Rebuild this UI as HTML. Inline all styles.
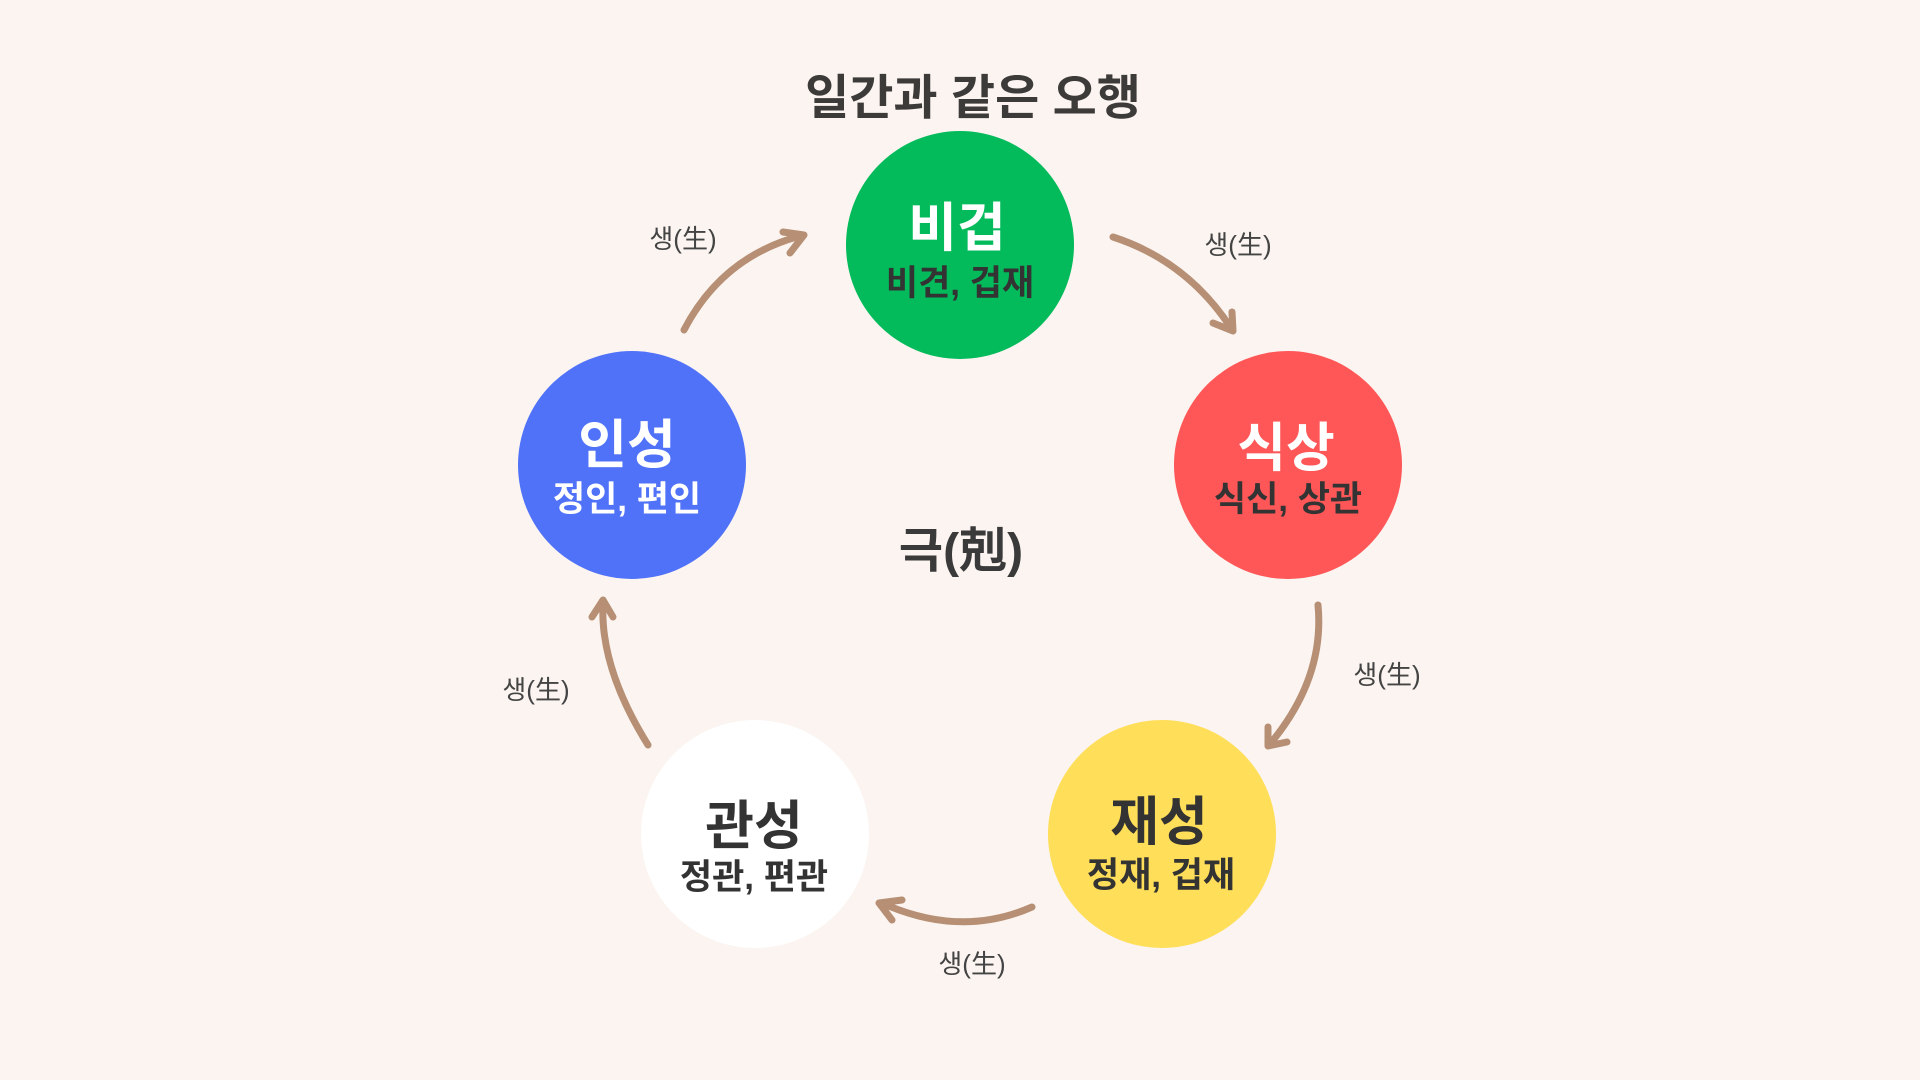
<!DOCTYPE html>
<html>
<head>
<meta charset="utf-8">
<style>
  html, body { margin: 0; padding: 0; }
  body { width: 1920px; height: 1080px; background: #fbf4f0; overflow: hidden; }
  svg { display: block; }
  text { font-family: "Liberation Sans", "Noto Sans CJK KR", "NanumGothic", sans-serif; }
  .t { font-weight: 700; }
  .lbl { font-size: 26px; fill: #444; font-weight: 400; }
</style>
</head>
<body>
<svg width="1920" height="1080" viewBox="0 0 1920 1080" xmlns="http://www.w3.org/2000/svg">
  <rect width="1920" height="1080" fill="#fbf4f0"/>

  <!-- Title -->
  <text x="973" y="114" text-anchor="middle" class="t" font-size="48" fill="#3d3b3a">일간과 같은 오행</text>

  <!-- Circles -->
  <circle cx="960" cy="245" r="114" fill="#03bb5b"/>
  <circle cx="1288" cy="465" r="114" fill="#ff5757"/>
  <circle cx="1162" cy="834" r="114" fill="#ffde59"/>
  <circle cx="755" cy="834" r="114" fill="#ffffff"/>
  <circle cx="632" cy="465" r="114" fill="#5072f8"/>

  <!-- Node labels -->
  <text x="957" y="246" text-anchor="middle" class="t" font-size="53" fill="#ffffff">비겁</text>
  <text x="960" y="295" text-anchor="middle" class="t" font-size="35" fill="#333333">비견, 겁재</text>

  <text x="1286" y="466" text-anchor="middle" class="t" font-size="53" fill="#ffffff">식상</text>
  <text x="1288" y="511" text-anchor="middle" class="t" font-size="35" fill="#333333">식신, 상관</text>

  <text x="1159" y="840" text-anchor="middle" class="t" font-size="53" fill="#333333">재성</text>
  <text x="1161" y="887" text-anchor="middle" class="t" font-size="35" fill="#333333">정재, 겁재</text>

  <text x="754" y="844" text-anchor="middle" class="t" font-size="53" fill="#333333">관성</text>
  <text x="754" y="889" text-anchor="middle" class="t" font-size="35" fill="#333333">정관, 편관</text>

  <text x="627" y="463" text-anchor="middle" class="t" font-size="53" fill="#ffffff">인성</text>
  <text x="627" y="511" text-anchor="middle" class="t" font-size="35" fill="#ffffff">정인, 편인</text>

  <!-- Center -->
  <text x="961" y="567" text-anchor="middle" class="t" font-size="48" fill="#3a3a3a">극(剋)</text>

  <!-- Arrows -->
  <g fill="none" stroke="#b68f74" stroke-width="7" stroke-linecap="round" stroke-linejoin="round">
    <!-- 인성 -> 비겁 -->
    <path d="M684 330 Q722 257 800 236"/>
    <path d="M783 232 L804 235 L790 253"/>
    <!-- 비겁 -> 식상 -->
    <path d="M1113 237 Q1187 261 1231 328"/>
    <path d="M1213 323 L1233 331 L1232 312"/>
    <!-- 식상 -> 재성 -->
    <path d="M1318 605 Q1325 678 1270 744"/>
    <path d="M1268 727 L1268 746 L1287 742"/>
    <!-- 재성 -> 관성 -->
    <path d="M1032 907 Q962 938 884 904"/>
    <path d="M902 900 L879 903 L892 920"/>
    <!-- 관성 -> 인성 -->
    <path d="M648 745 Q600 668 603 604"/>
    <path d="M592 617 L603 600 L613 617"/>
  </g>

  <!-- Arrow labels -->
  <text x="683" y="248" text-anchor="middle" class="lbl">생(生)</text>
  <text x="1238" y="254" text-anchor="middle" class="lbl">생(生)</text>
  <text x="1387" y="684" text-anchor="middle" class="lbl">생(生)</text>
  <text x="972" y="973" text-anchor="middle" class="lbl">생(生)</text>
  <text x="536" y="699" text-anchor="middle" class="lbl">생(生)</text>
</svg>
</body>
</html>
